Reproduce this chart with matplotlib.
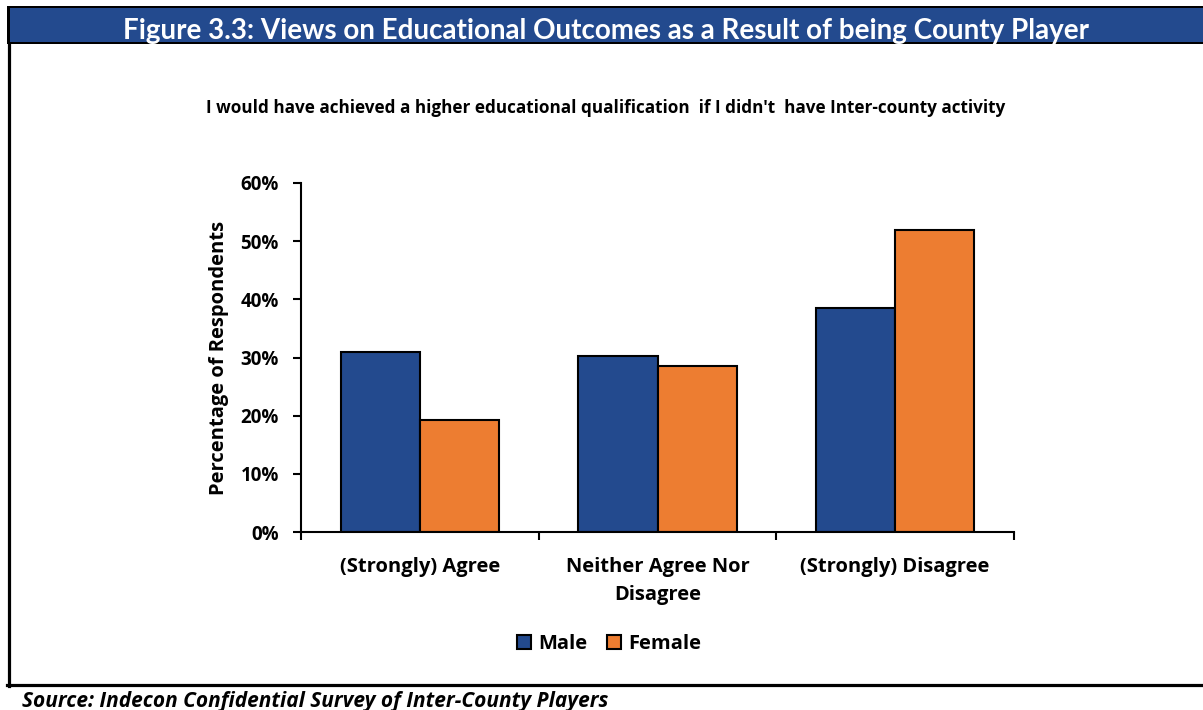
import matplotlib
matplotlib.use("Agg")
import matplotlib.pyplot as plt
from matplotlib.patches import Rectangle, Patch
from matplotlib.lines import Line2D
from matplotlib.ticker import FuncFormatter

# Data
categories = ["(Strongly) Agree", "Neither Agree Nor\nDisagree", "(Strongly) Disagree"]
series_names = ["Male", "Female"]
male_pct = [30.9, 30.3, 38.5]
female_pct = [19.3, 28.5, 51.9]
y_ticks = [0, 10, 20, 30, 40, 50, 60]

title_text = "Figure 3.3: Views on Educational Outcomes as a Result of being County Player"
subtitle_text = "I would have achieved a higher educational qualification  if I didn't  have Inter-county activity"
source_text = "Source: Indecon Confidential Survey of Inter-County Players"
y_label = "Percentage of Respondents"

BLUE = "#234A8E"
ORANGE = "#ED7D31"
TITLE_FONT = ["Lato", "DejaVu Sans"]
BODY_FONT = ["Open Sans", "DejaVu Sans"]

W, H = 1203, 710
plt.rcParams["font.family"] = BODY_FONT
fig = plt.figure(figsize=(W / 100, H / 100), dpi=100)


def fx(px):
    return px / W


def fy(py):
    return 1 - py / H


# Frame: header band with black borders, left border and bottom rule
fig.patches.append(Rectangle((fx(7), fy(44)), fx(W), 38 / H, transform=fig.transFigure,
                             facecolor="black", edgecolor="none", zorder=0))
fig.patches.append(Rectangle((fx(10), fy(41.5)), fx(W), 33.5 / H, transform=fig.transFigure,
                             facecolor=BLUE, edgecolor="none", zorder=1))
fig.lines.append(Line2D([fx(8.5), fx(8.5)], [fy(44), fy(686)], transform=fig.transFigure,
                        color="black", lw=2.3))
fig.lines.append(Line2D([fx(7), fx(W)], [fy(684.5), fy(684.5)], transform=fig.transFigure,
                        color="black", lw=2.3))

fig.text(fx(606), fy(31), title_text, color="white", fontsize=20, fontweight="bold",
         ha="center", va="center", family=TITLE_FONT)
fig.text(fx(606), fy(108), subtitle_text, color="black", fontsize=12.3, fontweight="bold",
         ha="center", va="center")
fig.text(fx(22), fy(701), source_text, color="black", fontsize=15, fontweight="bold",
         fontstyle="italic", ha="left", va="center")

# Chart area
ax = fig.add_axes([fx(301), fy(532), (1014 - 301) / W, (532 - 183) / H])
w = 1 / 3
centers = [i + 0.5 for i in range(len(categories))]
ax.bar([c - w / 2 for c in centers], male_pct, width=w, color=BLUE,
       edgecolor="black", linewidth=1.5, zorder=2)
ax.bar([c + w / 2 for c in centers], female_pct, width=w, color=ORANGE,
       edgecolor="black", linewidth=1.5, zorder=2)

ax.set_xlim(0, len(categories))
ax.set_ylim(0, 60)
ax.set_yticks(y_ticks)
ax.yaxis.set_major_formatter(FuncFormatter(lambda v, p: f"{v:.0f}%"))
ax.set_xticks(range(len(categories) + 1))
ax.set_xticklabels([])
ax.set_xticks(centers, minor=True)
ax.set_xticklabels(categories, minor=True, fontsize=14.5, fontweight="bold", linespacing=1.55)
ax.tick_params(axis="x", which="minor", length=0, pad=18)
ax.tick_params(axis="x", which="major", length=6, width=1.5, direction="out")
ax.tick_params(axis="y", length=6, width=1.5, direction="out", pad=10)
for lbl in ax.get_yticklabels():
    lbl.set_fontsize(13.5)
    lbl.set_fontweight("bold")

for s in ["top", "right"]:
    ax.spines[s].set_visible(False)
for s in ["left", "bottom"]:
    ax.spines[s].set_linewidth(1.5)
ax.set_ylabel(y_label, fontsize=14.5, fontweight="bold", labelpad=8)

handles = [Patch(facecolor=BLUE, edgecolor="black", linewidth=1.5),
           Patch(facecolor=ORANGE, edgecolor="black", linewidth=1.5)]
fig.legend(handles, series_names, loc="center", bbox_to_anchor=(fx(609), fy(644)),
           ncol=2, frameon=False, prop={"family": BODY_FONT, "weight": "bold", "size": 14.5},
           handlelength=0.7, handleheight=0.7, handletextpad=0.35, columnspacing=1.0)

fig.savefig("out.png", dpi=100)
